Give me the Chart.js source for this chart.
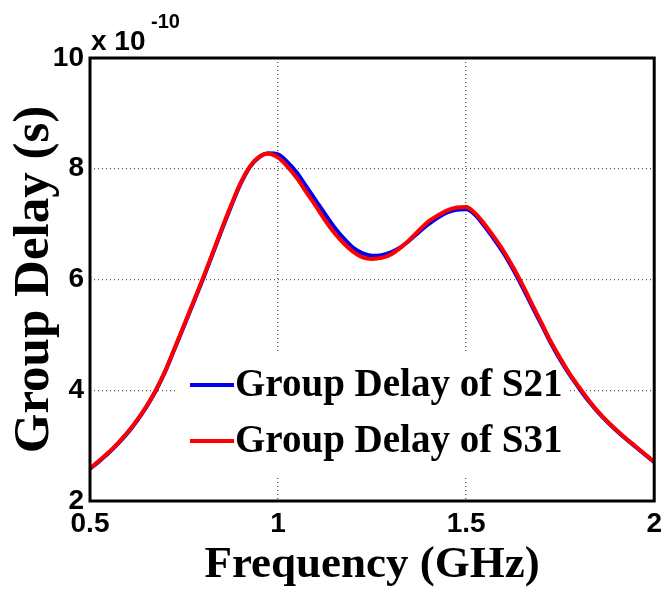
<!DOCTYPE html>
<html>
<head>
<meta charset="utf-8">
<script src="https://cdn.jsdelivr.net/npm/chart.js@4"></script>
<style>
  html, body { margin: 0; padding: 0; background: #fff; }
  #wrap { width: 668px; height: 594px; }
</style>
</head>
<body>
<div id="wrap"><canvas id="delayChart" width="668" height="594"></canvas></div>
<script>
// frequency in GHz, group delay in units of 1e-10 s
const freqGHz = [0.5, 0.525, 0.55, 0.575, 0.6, 0.625, 0.65, 0.675, 0.7, 0.725,
  0.75, 0.775, 0.8, 0.825, 0.85, 0.875, 0.9, 0.925, 0.95, 0.975,
  1.0, 1.025, 1.05, 1.075, 1.1, 1.125, 1.15, 1.175, 1.2, 1.225,
  1.25, 1.275, 1.3, 1.325, 1.35, 1.375, 1.4, 1.425, 1.45, 1.475,
  1.5, 1.525, 1.55, 1.575, 1.6, 1.625, 1.65, 1.675, 1.7, 1.725,
  1.75, 1.775, 1.8, 1.825, 1.85, 1.875, 1.9, 1.925, 1.95, 1.975, 2.0];
const delayS21 = [2.58, 2.72, 2.87, 3.04, 3.23, 3.45, 3.70, 3.99, 4.34, 4.75,
  5.16, 5.58, 6.00, 6.44, 6.89, 7.32, 7.72, 8.03, 8.21, 8.28,
  8.26, 8.12, 7.93, 7.68, 7.43, 7.18, 6.94, 6.74, 6.57, 6.47,
  6.43, 6.44, 6.49, 6.58, 6.71, 6.86, 7.00, 7.12, 7.21, 7.26,
  7.27, 7.16, 6.95, 6.72, 6.47, 6.18, 5.86, 5.52, 5.19, 4.85,
  4.55, 4.28, 4.04, 3.81, 3.61, 3.43, 3.27, 3.12, 2.98, 2.84, 2.70];
const delayS31 = [2.59, 2.73, 2.88, 3.05, 3.24, 3.46, 3.71, 4.00, 4.35, 4.76,
  5.18, 5.60, 6.02, 6.46, 6.91, 7.34, 7.74, 8.04, 8.22, 8.27,
  8.20, 8.04, 7.83, 7.58, 7.33, 7.07, 6.84, 6.65, 6.50, 6.40,
  6.37, 6.39, 6.45, 6.57, 6.72, 6.89, 7.05, 7.16, 7.25, 7.30,
  7.31, 7.19, 6.99, 6.76, 6.51, 6.22, 5.90, 5.56, 5.22, 4.88,
  4.58, 4.30, 4.06, 3.83, 3.62, 3.44, 3.28, 3.13, 2.99, 2.85, 2.71];
const xTicks = [0.5, 1, 1.5, 2];
const yTicks = [2, 4, 6, 8, 10];
const seriesLabels = ['Group Delay of S21', 'Group Delay of S31'];

const toPoints = (ys) => freqGHz.map((f, i) => ({ x: f, y: ys[i] }));

// white legend block inside the axes, drawn over the grid but under the curves
const legendInAxes = {
  id: 'legendInAxes',
  beforeDatasetsDraw(chart) {
    const ctx = chart.ctx;
    const sets = chart.data.datasets;
    ctx.save();
    ctx.fillStyle = '#fff';
    ctx.fillRect(177, 353, 390, 122);
    const rows = [385, 441];
    sets.forEach((ds, i) => {
      ctx.strokeStyle = ds.borderColor;
      ctx.lineWidth = 4;
      ctx.beginPath();
      ctx.moveTo(190, rows[i]);
      ctx.lineTo(234, rows[i]);
      ctx.stroke();
      ctx.fillStyle = '#000';
      ctx.font = 'bold 39px "Liberation Serif", "Times New Roman", serif';
      ctx.textBaseline = 'alphabetic';
      ctx.fillText(ds.label, 235, rows[i] + 11);
    });
    ctx.restore();
  }
};

// box around the axes and the "x 10^-10" multiplier
const frameAndExponent = {
  id: 'frameAndExponent',
  afterDatasetsDraw(chart) {
    const { ctx, chartArea: a } = chart;
    ctx.save();
    ctx.strokeStyle = '#000';
    ctx.lineWidth = 3;
    ctx.strokeRect(a.left, a.top, a.right - a.left, a.bottom - a.top);
    ctx.fillStyle = '#000';
    ctx.textBaseline = 'alphabetic';
    ctx.font = 'bold 28px "Liberation Sans", Arial, sans-serif';
    ctx.fillText('x 10', 91, 50);
    ctx.font = 'bold 20px "Liberation Sans", Arial, sans-serif';
    ctx.fillText('-10', 151, 28);
    ctx.restore();
  }
};

const gridStyle = {
  color: '#555',
  lineWidth: 1.3,
  drawTicks: false
};

new Chart(document.getElementById('delayChart'), {
  type: 'line',
  data: {
    datasets: [{
      label: seriesLabels[0],
      data: toPoints(delayS21),
      borderColor: '#0000ee',
      borderWidth: 4,
      pointRadius: 0,
      cubicInterpolationMode: 'monotone',
      order: 1
    }, {
      label: seriesLabels[1],
      data: toPoints(delayS31),
      borderColor: '#ff0000',
      borderWidth: 4,
      pointRadius: 0,
      cubicInterpolationMode: 'monotone',
      order: 0
    }]
  },
  options: {
    responsive: false,
    devicePixelRatio: 1,
    animation: false,
    layout: { padding: { top: 58, right: 8, left: 0, bottom: 0 } },
    plugins: {
      legend: { display: false },
      tooltip: { enabled: false }
    },
    scales: {
      x: {
        type: 'linear',
        min: 0.5,
        max: 2,
        afterBuildTicks: (s) => { s.ticks = xTicks.map(v => ({ value: v })); },
        afterFit: (s) => { s.height = 93; },
        grid: gridStyle,
        border: { display: false, dash: [1, 3] },
        ticks: {
          color: '#000',
          padding: 6,
          maxRotation: 0,
          font: { family: '"Liberation Sans", Arial, sans-serif', size: 28, weight: 'bold' },
          callback: (v) => String(v)
        },
        title: {
          display: true,
          text: 'Frequency (GHz)',
          color: '#000',
          padding: { top: 0, bottom: 2 },
          font: { family: '"Liberation Serif", "Times New Roman", serif', size: 45, weight: 'bold' }
        }
      },
      y: {
        min: 2,
        max: 10,
        afterBuildTicks: (s) => { s.ticks = yTicks.map(v => ({ value: v })); },
        afterFit: (s) => { s.width = 90; },
        grid: gridStyle,
        border: { display: false, dash: [1, 3] },
        ticks: {
          color: '#000',
          padding: 6,
          font: { family: '"Liberation Sans", Arial, sans-serif', size: 28, weight: 'bold' },
          callback: (v) => String(v)
        },
        title: {
          display: true,
          text: 'Group Delay (s)',
          color: '#000',
          padding: { top: 4, bottom: 0 },
          font: { family: '"Liberation Serif", "Times New Roman", serif', size: 51, weight: 'bold' }
        }
      }
    }
  },
  plugins: [legendInAxes, frameAndExponent]
});
</script>
</body>
</html>
